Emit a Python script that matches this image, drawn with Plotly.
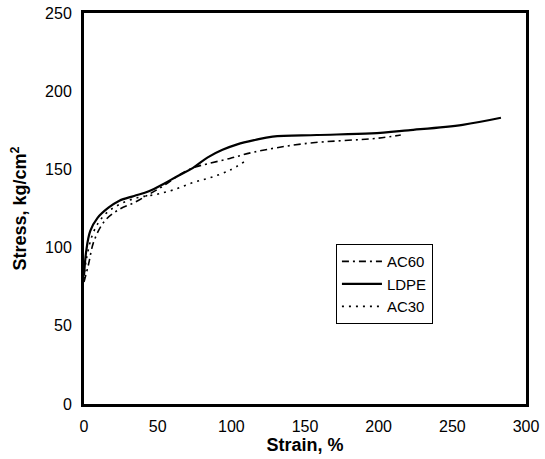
import plotly.graph_objects as go

# LDPE
ldpe_strain = [0, 1.5, 4.2, 9.2, 16.6, 24, 34, 44, 54, 64, 74, 84, 94, 104, 116, 128, 158, 195, 220, 257, 283]
ldpe_stress = [82, 97.7, 110.5, 119, 125.5, 130, 133, 136, 140.7, 146, 151, 157.7, 162.5, 166, 168.8, 171, 172, 173, 175, 178.5, 183]

# AC60
ac60_strain = [0, 3, 6.7, 14, 24, 34, 44, 54, 64, 74, 84, 99, 115, 150, 200, 215]
ac60_stress = [78, 89, 104, 117, 124.5, 128.7, 134, 139.5, 146, 151, 153.6, 157, 161, 166.5, 170, 172]

# AC30
ac30_strain = [0, 1.7, 6.7, 14, 24, 36.6, 49, 61, 74, 86, 99, 109]
ac30_stress = [80, 93, 110.5, 121, 127.6, 132, 134, 137, 141.6, 144.8, 149.5, 155]

x_ticks = [0, 50, 100, 150, 200, 250, 300]
y_ticks = [0, 50, 100, 150, 200, 250]

fig = go.Figure()
fig.add_trace(go.Scatter(x=ac60_strain, y=ac60_stress, name="AC60", mode="lines",
                         line=dict(color="black", width=1.6, dash="7px,4px,2px,4px", shape="spline")))
fig.add_trace(go.Scatter(x=ldpe_strain, y=ldpe_stress, name="LDPE", mode="lines",
                         line=dict(color="black", width=2.2, shape="spline")))
fig.add_trace(go.Scatter(x=ac30_strain, y=ac30_stress, name="AC30", mode="lines",
                         line=dict(color="black", width=1.6, dash="2px,5px", shape="spline")))

font_family = "Liberation Sans, Arial, sans-serif"
fig.update_layout(
    width=545, height=459,
    margin=dict(l=84, r=19, t=13, b=55, autoexpand=False),
    paper_bgcolor="white", plot_bgcolor="white",
    font=dict(family=font_family, size=16, color="black"),
    showlegend=True,
    legend=dict(x=0.570, y=0.409, xanchor="left", yanchor="top",
                bordercolor="black", borderwidth=1, bgcolor="white",
                font=dict(size=15), tracegroupgap=0, itemwidth=40),
    xaxis=dict(range=[0, 300], tickvals=x_ticks, showgrid=False, zeroline=False,
               showline=True, linecolor="black", linewidth=3, mirror=True,
               ticks="outside", ticklen=6, tickcolor="rgba(0,0,0,0)", automargin=False,
               ticklabeloverflow="allow",
               title=dict(text="<b>Strain, %</b>", font=dict(size=18), standoff=4)),
    yaxis=dict(range=[0, 250], tickvals=y_ticks, showgrid=False, zeroline=False,
               showline=True, linecolor="black", linewidth=3, mirror=True,
               ticks="outside", ticklen=6, tickcolor="rgba(0,0,0,0)", automargin=False,
               ticklabeloverflow="allow",
               title=dict(text="<b>Stress, kg/cm<sup>2</sup></b>", font=dict(size=18), standoff=14)),
)

# remove the page's default body margin so the figure sits at the window origin
fig.write_html("out.html", config={"displayModeBar": False},
               post_script="document.body.style.margin='0px';")
